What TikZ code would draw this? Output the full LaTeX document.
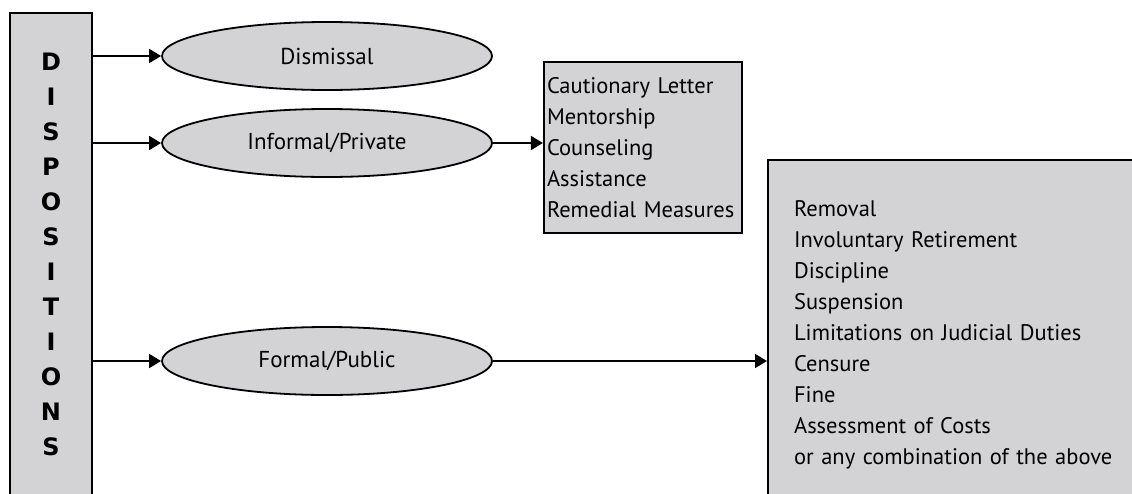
\documentclass[tikz,border=0pt]{standalone}
\usepackage{fontspec}
\setmainfont{PT Sans}
\newfontfamily\dispfont{DejaVu Sans}
\usetikzlibrary{shapes.geometric,arrows.meta}
\definecolor{boxgray}{RGB}{211,211,213}

\begin{document}
\begin{tikzpicture}[
      x=1pt, y=-1pt,
      oval/.style = {ellipse, draw, line width=1.8pt, fill=boxgray,
                     minimum width=330pt, minimum height=68pt, inner sep=0pt,
                     font=\fontsize{23}{26}\selectfont},
      listbox/.style = {draw, line width=2.2pt, fill=boxgray, align=left,
                        font=\fontsize{22.5}{31}\selectfont},
      arr/.style = {-{Triangle[length=12pt,width=14pt]}, line width=1.8pt},
    ]
    \useasboundingbox (0,0) rectangle (1132,493);
    \clip (0,0) rectangle (1132,493);

    \node[draw, line width=2.2pt, fill=boxgray, minimum width=82pt,
          minimum height=485pt, inner sep=0pt] (disp) at (51,255.5) {};
    \node[font=\dispfont\bfseries\fontsize{24}{35}\selectfont, align=center]
      (dispword) at (51,254.5) {D\\I\\S\\P\\O\\S\\I\\T\\I\\O\\N\\S};

    \node[oval] (dismissal) at (327,56)  {Dismissal};
    \node[oval] (informal)  at (327,143) {Informal/Private};
    \node[oval] (formal)    at (327,361) {Formal/Public};

    \node[listbox, text width=192pt, inner xsep=3pt, minimum height=171pt]
      (privlist) at (643,147.5)
      {Cautionary Letter\\Mentorship\\Counseling\\Assistance\\Remedial Measures};
    \node[listbox, text width=348pt, inner xsep=26pt, minimum height=349pt,
          anchor=north west] (publist) at (767,159)
      {Removal\\Involuntary Retirement\\Discipline\\Suspension\\
       Limitations on Judicial Duties\\Censure\\Fine\\Assessment of Costs\\
       or any combination of the above};

    \draw[arr] (disp.east |- dismissal.west) -- (dismissal.west);
    \draw[arr] (disp.east |- informal.west) -- (informal.west);
    \draw[arr] (disp.east |- formal.west) -- (formal.west);
    \draw[arr] (informal.east) -- (informal.east -| privlist.west);
    \draw[arr] (formal.east) -- (formal.east -| publist.west);
  \end{tikzpicture}
\end{document}
